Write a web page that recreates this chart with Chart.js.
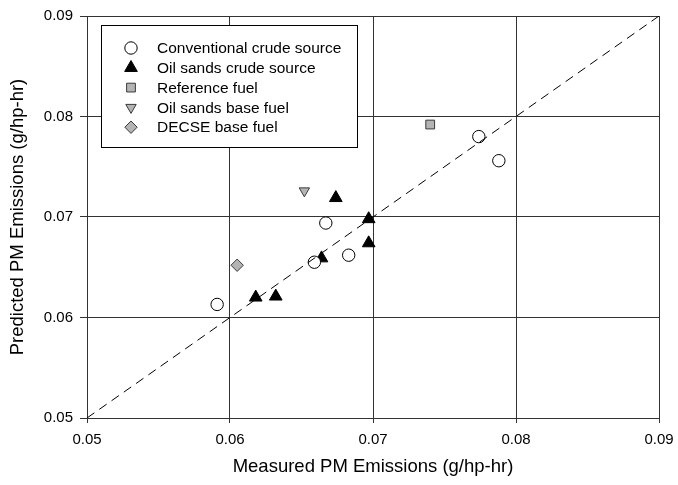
<!DOCTYPE html>
<html><head><meta charset="utf-8">
<script src="https://cdn.jsdelivr.net/npm/chart.js@4/dist/chart.umd.min.js"></script>
<style>html,body{margin:0;padding:0;background:#fff}#wrap{width:678px;height:485px}</style>
</head><body><div id="wrap"><canvas id="c" width="678" height="485"></canvas></div>
<script>
// ---- data ----
const conventionalX = [0.0591, 0.0659, 0.0667, 0.0683, 0.0774, 0.0788];
const conventionalY = [0.0613, 0.0655, 0.0694, 0.0662, 0.0780, 0.0756];
const oilSandsX = [0.0618, 0.0632, 0.0664, 0.0674, 0.0697, 0.0697];
const oilSandsY = [0.0620, 0.0621, 0.0659, 0.0719, 0.0674, 0.0698];
const referenceX = [0.0740];
const referenceY = [0.0792];
const oilBaseX = [0.0652];
const oilBaseY = [0.0726];
const decseX = [0.0605];
const decseY = [0.0652];
const parityLine = [0.05, 0.09];
const tickValues = [0.05, 0.06, 0.07, 0.08, 0.09];
const seriesLabels = ['Conventional crude source', 'Oil sands crude source', 'Reference fuel', 'Oil sands base fuel', 'DECSE base fuel'];
const xTitle = 'Measured PM Emissions (g/hp-hr)';
const yTitle = 'Predicted PM Emissions (g/hp-hr)';

const pts = (xs, ys) => xs.map((x, i) => ({x: x, y: ys[i]}));
const FONT = '"Liberation Sans", Arial, sans-serif';
const GRID = '#333333';

const legendPlugin = {
  id: 'boxLegend',
  afterDraw(chart) {
    const ctx = chart.ctx;
    const H = Chart.helpers;
    const x0 = 101.5, y0 = 25.5, w = 256, h = 122;
    ctx.save();
    ctx.fillStyle = '#fff';
    ctx.strokeStyle = '#000';
    ctx.lineWidth = 1;
    ctx.fillRect(x0, y0, w, h);
    ctx.strokeRect(x0, y0, w, h);
    const items = chart.data.datasets.filter(d => !d.isLine);
    items.forEach((d, i) => {
      const cy = 48 + i * 19.8;
      ctx.fillStyle = d.pointBackgroundColor;
      ctx.strokeStyle = d.pointBorderColor;
      ctx.lineWidth = 1;
      H.drawPoint(ctx, {pointStyle: d.pointStyle, radius: d.pointRadius, rotation: d.pointRotation || 0, borderWidth: 1}, 131, cy);
      ctx.fillStyle = '#000';
      ctx.font = '15.5px ' + FONT;
      ctx.textBaseline = 'middle';
      ctx.textAlign = 'left';
      ctx.fillText(d.label, 157, cy + 1);
    });
    ctx.restore();
  }
};

new Chart(document.getElementById('c'), {
  type: 'scatter',
  data: {
    datasets: [
      {isLine: true, type: 'line', label: 'parity', data: pts(parityLine, parityLine), borderColor: '#000', borderWidth: 1, borderDash: [9, 6], pointRadius: 0, fill: false},
      {label: seriesLabels[0], data: pts(conventionalX, conventionalY), pointStyle: 'circle', pointRadius: 6.2, pointBackgroundColor: '#fff', pointBorderColor: '#000', pointBorderWidth: 1},
      {label: seriesLabels[1], data: pts(oilSandsX, oilSandsY), pointStyle: 'triangle', pointRadius: 7.3, pointBackgroundColor: '#000', pointBorderColor: '#000', pointBorderWidth: 1},
      {label: seriesLabels[2], data: pts(referenceX, referenceY), pointStyle: 'rect', pointRadius: 6.2, pointBackgroundColor: '#b4b4b4', pointBorderColor: '#3a3a3a', pointBorderWidth: 1},
      {label: seriesLabels[3], data: pts(oilBaseX, oilBaseY), pointStyle: 'triangle', pointRotation: 180, pointRadius: 6, pointBackgroundColor: '#b4b4b4', pointBorderColor: '#3a3a3a', pointBorderWidth: 1},
      {label: seriesLabels[4], data: pts(decseX, decseY), pointStyle: 'rectRot', pointRadius: 6.2, pointBackgroundColor: '#b4b4b4', pointBorderColor: '#3a3a3a', pointBorderWidth: 1}
    ]
  },
  options: {
    responsive: false,
    devicePixelRatio: 1,
    animation: false,
    events: [],
    layout: {padding: {top: 16, right: 19, left: 0, bottom: 0}, autoPadding: false},
    plugins: {legend: {display: false}, tooltip: {enabled: false}},
    scales: {
      x: {
        type: 'linear', min: 0.05, max: 0.09,
        afterBuildTicks: s => { s.ticks = tickValues.map(v => ({value: v})); },
        afterFit: s => { s.height = 67; s.paddingLeft = 0; s.paddingRight = 0; },
        grid: {color: GRID, lineWidth: 1, tickLength: 5, tickColor: GRID},
        border: {display: true, color: GRID, width: 1},
        ticks: {color: '#000', font: {family: FONT, size: 15}, padding: 8, maxRotation: 0, callback: v => v.toFixed(2)},
        title: {display: true, text: xTitle, color: '#000', font: {family: FONT, size: 18.5}, padding: {top: 0, bottom: 7}}
      },
      y: {
        type: 'linear', min: 0.05, max: 0.09,
        afterBuildTicks: s => { s.ticks = tickValues.map(v => ({value: v})); },
        afterFit: s => { s.width = 87; s.paddingTop = 0; s.paddingBottom = 0; },
        grid: {color: GRID, lineWidth: 1, tickLength: 7, tickColor: GRID},
        border: {display: true, color: GRID, width: 1},
        ticks: {color: '#000', font: {family: FONT, size: 15}, padding: 7, callback: v => v.toFixed(2)},
        title: {display: true, text: yTitle, color: '#000', font: {family: FONT, size: 18.5}, padding: {top: 7, bottom: 0}}
      }
    }
  },
  plugins: [legendPlugin]
});
</script>
</body></html>
